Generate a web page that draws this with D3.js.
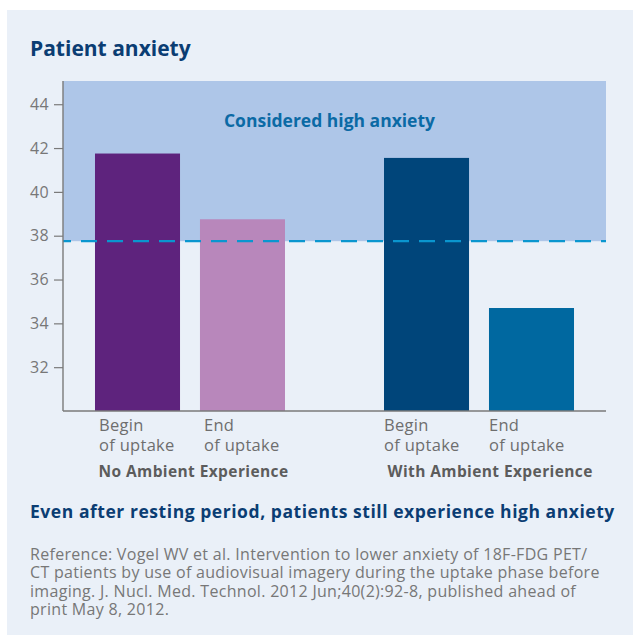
<!DOCTYPE html>
<html>
<head>
<meta charset="utf-8">
<script src="https://cdn.jsdelivr.net/npm/d3@7"></script>
<style>
  body { margin: 0; background: #fff; }
  text { font-family: "Open Sans", sans-serif; }
</style>
</head>
<body>
<div id="chart"></div>
<script>
// data
const groups = ["No Ambient Experience", "With Ambient Experience"]
const phases = ["Begin", "End"]
const phaseLabels = [["Begin", "of uptake"], ["End", "of uptake"]]
const anxiety = [[41.75, 38.75], [41.55, 34.7]]
const threshold = 37.75
const yTicks = [32, 34, 36, 38, 40, 42, 44]
const barColors = [["#5e237d", "#b887bb"], ["#00457a", "#0068a0"]]

const W = 633, H = 635
const margin = { top: 81, right: 27, bottom: 224, left: 63 }
const width = W - margin.left - margin.right
const height = H - margin.top - margin.bottom

const svg = d3.select("#chart").append("svg")
  .attr("width", W)
  .attr("height", H)

// panel background
svg.append("rect")
  .attr("x", 7).attr("y", 10)
  .attr("width", W - 7).attr("height", H - 10)
  .attr("fill", "#eaf0f8")

svg.append("text")
  .attr("x", 30).attr("y", 56)
  .attr("fill", "#0b3d73")
  .attr("font-size", 21)
  .attr("font-weight", 700)
  .text("Patient anxiety")

const g = svg.append("g")
  .attr("transform", "translate(" + margin.left + "," + margin.top + ")")

const y = d3.scaleLinear()
  .domain([30, 45.06])
  .range([height, 0])

const x0 = d3.scaleBand()
  .domain(groups)
  .range([0, width])
  .paddingInner(0.3426)
  .paddingOuter(0.1107)

const x1 = d3.scaleBand()
  .domain(phases)
  .range([0, x0.bandwidth()])
  .paddingInner(0.19)

// "considered high anxiety" zone
g.append("rect")
  .attr("x", 0).attr("y", 0)
  .attr("width", width)
  .attr("height", y(threshold))
  .attr("fill", "#aec6e8")

g.append("text")
  .attr("x", width / 2 - 5)
  .attr("y", 46)
  .attr("text-anchor", "middle")
  .attr("fill", "#0b6aa5")
  .attr("font-size", 17.5)
  .attr("font-weight", 700)
  .text("Considered high anxiety")

// bars
const grp = g.selectAll(".grp")
  .data(groups)
  .enter().append("g")
    .attr("class", "grp")
    .attr("transform", d => "translate(" + x0(d) + ",0)")

grp.selectAll("rect")
  .data((d, i) => phases.map((p, j) => ({ p: p, v: anxiety[i][j], c: barColors[i][j] })))
  .enter().append("rect")
    .attr("x", d => x1(d.p))
    .attr("y", d => y(d.v))
    .attr("width", x1.bandwidth())
    .attr("height", d => height - y(d.v))
    .attr("fill", d => d.c)

// threshold line
g.append("line")
  .attr("x1", 0).attr("x2", width)
  .attr("y1", y(threshold)).attr("y2", y(threshold))
  .attr("stroke", "#0a96cf")
  .attr("stroke-width", 2.3)
  .attr("stroke-dasharray", "16,10")
  .attr("stroke-dashoffset", 8)

// y axis
const yAxis = g.append("g")
  .call(d3.axisLeft(y).tickValues(yTicks).tickSize(9).tickPadding(5))
yAxis.select(".domain")
  .attr("d", "M0," + height + "V0")
  .attr("stroke", "#7a7a7a")
  .attr("stroke-width", 1.4)
yAxis.selectAll(".tick line").attr("stroke", "#7a7a7a").attr("stroke-width", 1.2)
yAxis.selectAll(".tick text")
  .attr("fill", "#777")
  .attr("font-size", 16)
  .attr("letter-spacing", 0.3)
  .attr("font-family", "Open Sans")

// x axis baseline
g.append("line")
  .attr("x1", 0).attr("x2", width)
  .attr("y1", height).attr("y2", height)
  .attr("stroke", "#7a7a7a")
  .attr("stroke-width", 1.4)

// category labels
grp.each(function(gd, gi) {
  const off = gi === 0 ? 4 : 0
  d3.select(this).selectAll(".cat")
    .data(phases)
    .enter().append("text")
      .attr("class", "cat")
      .attr("y", height + 20)
      .attr("fill", "#6e6e6e")
      .attr("font-size", 16.5)
      .attr("letter-spacing", 0.3)
      .each(function(d) {
        const t = d3.select(this)
        phaseLabels[phases.indexOf(d)].forEach((s, k) => {
          t.append("tspan")
            .attr("x", x1(d) + off)
            .attr("dy", k ? 19.7 : 0)
            .text(s)
        })
      })
})

grp.append("text")
  .attr("x", 3.5)
  .attr("y", height + 66)
  .attr("fill", "#5c5c5c")
  .attr("font-size", 15.5)
  .attr("letter-spacing", 0.4)
  .attr("font-weight", 700)
  .text(d => d)

svg.append("text")
  .attr("x", 30).attr("y", 518)
  .attr("fill", "#0b3d73")
  .attr("font-size", 17.5)
  .attr("letter-spacing", 0.55)
  .attr("font-weight", 700)
  .text("Even after resting period, patients still experience high anxiety")

const refLines = [
  "Reference: Vogel WV et al. Intervention to lower anxiety of 18F-FDG PET/",
  "CT patients by use of audiovisual imagery during the uptake phase before",
  "imaging. J. Nucl. Med. Technol. 2012 Jun;40(2):92-8, published ahead of",
  "print May 8, 2012."
]
svg.append("text")
  .attr("x", 30).attr("y", 560)
  .attr("fill", "#777")
  .attr("font-size", 16)
  .attr("letter-spacing", 0.3)
  .selectAll("tspan")
  .data(refLines)
  .enter().append("tspan")
    .attr("x", 30)
    .attr("dy", (d, i) => i ? 18.4 : 0)
    .text(d => d)
</script>
</body>
</html>
